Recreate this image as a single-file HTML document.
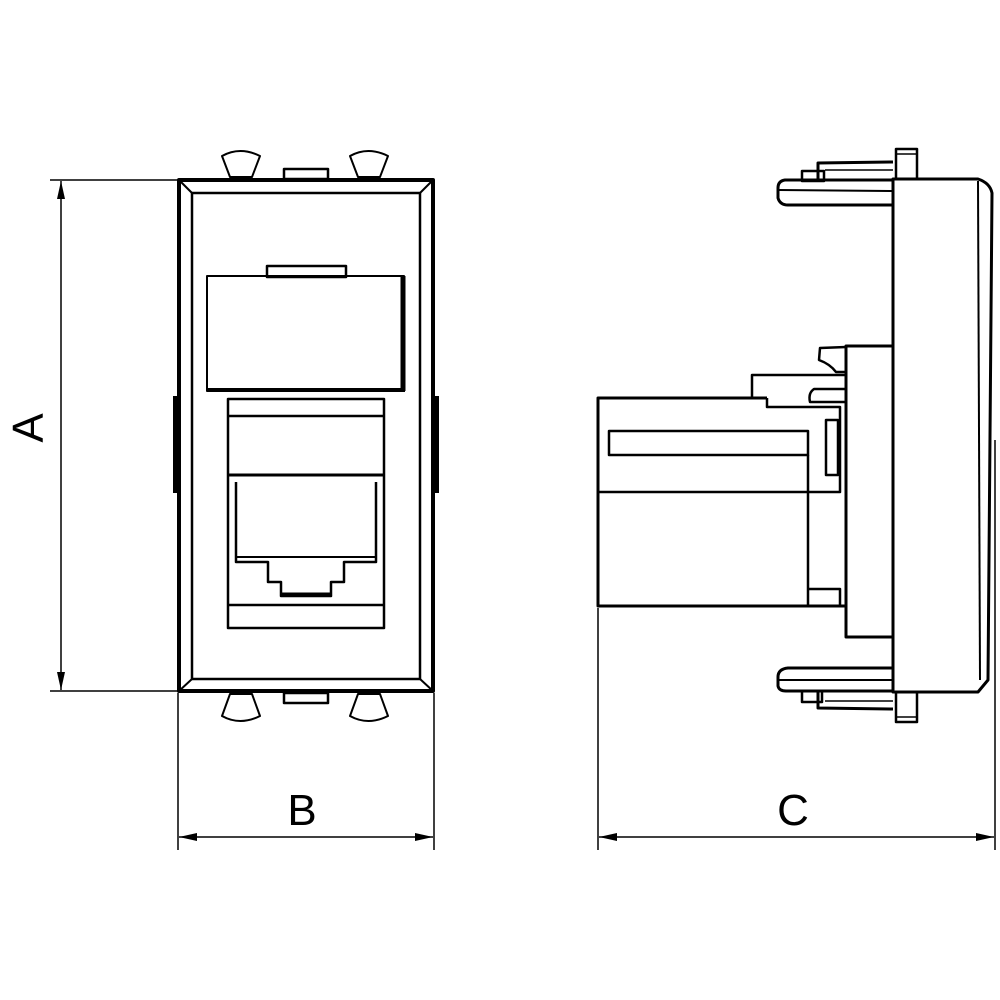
<!DOCTYPE html>
<html><head><meta charset="utf-8"><style>html,body{margin:0;padding:0;background:#fff}svg{display:block}</style></head>
<body>
<svg width="1000" height="1000" viewBox="0 0 1000 1000" xmlns="http://www.w3.org/2000/svg">
<defs>
<marker id="ar" viewBox="0 0 18 8" refX="18" refY="4" markerWidth="18" markerHeight="8" markerUnits="userSpaceOnUse" orient="auto-start-reverse"><path d="M0,0 L18,4 L0,8 Z" fill="#000"/></marker>
</defs>
<g fill="none" stroke="#000" stroke-linejoin="round">
<!-- FRONT VIEW -->
<!-- ears top -->
<path d="M222,156 Q240,146 260,156 L252,177 L230,177 Z" stroke-width="2"/>
<path d="M350,156 Q368,146 388,156 L380,177 L358,177 Z" stroke-width="2"/>
<rect x="284" y="169" width="44" height="10" stroke-width="2.5"/>
<!-- ears bottom -->
<path d="M222,716 Q240,726 260,716 L252,694 L230,694 Z" stroke-width="2"/>
<path d="M350,716 Q368,726 388,716 L380,694 L358,694 Z" stroke-width="2"/>
<rect x="284" y="693" width="44" height="10" stroke-width="2.5"/>
<!-- outer -->
<rect x="179" y="180" width="254" height="511" stroke-width="4"/>
<rect x="192" y="193" width="228" height="486" stroke-width="2.5"/>
<line x1="179" y1="180" x2="192" y2="193" stroke-width="2"/>
<line x1="433" y1="180" x2="420" y2="193" stroke-width="2"/>
<line x1="179" y1="691" x2="192" y2="679" stroke-width="2"/>
<line x1="433" y1="691" x2="420" y2="679" stroke-width="2"/>
<!-- side bars -->
<line x1="175" y1="396" x2="175" y2="493" stroke-width="4"/>
<line x1="437" y1="396" x2="437" y2="493" stroke-width="4"/>
<!-- window -->
<rect x="207" y="276" width="197" height="115" stroke-width="2"/>
<line x1="403" y1="276" x2="403" y2="391" stroke-width="5"/>
<line x1="207" y1="390" x2="405" y2="390" stroke-width="4"/>
<rect x="267" y="266" width="79" height="11" stroke-width="2.5"/>
<!-- jack -->
<rect x="228" y="399" width="156" height="229" stroke-width="2.5"/>
<line x1="228" y1="416" x2="384" y2="416" stroke-width="2.5"/>
<line x1="229" y1="475" x2="383" y2="475" stroke-width="3"/>
<path d="M236,482 L236,562 L268,562 L268,582 L281,582 L281,596 L331,596 L331,582 L344,582 L344,562 L376,562 L376,482" stroke-width="2.5"/>
<line x1="236" y1="557" x2="376" y2="557" stroke-width="2"/>
<line x1="228" y1="605" x2="384" y2="605" stroke-width="2.5"/>
<line x1="281" y1="594" x2="331" y2="594" stroke-width="3"/>

<!-- SIDE VIEW -->
<!-- plate -->
<path d="M893,179 L978,179 Q990,183 992,193 L988,680 L978,692 L893,692 Z" stroke-width="3"/>
<line x1="978" y1="181" x2="980" y2="680" stroke-width="2"/>
<rect x="896" y="149" width="21" height="30" stroke-width="2.5"/>
<line x1="897" y1="154" x2="916" y2="154" stroke-width="1.5"/>
<rect x="896" y="692" width="21" height="30" stroke-width="2.5"/>
<line x1="897" y1="717" x2="916" y2="717" stroke-width="1.5"/>
<!-- upper clip -->
<path d="M893,180 L785,180 Q778,181 778,188 L778,198 Q780,205 788,205 L893,205" stroke-width="3"/>
<line x1="779" y1="190" x2="893" y2="191" stroke-width="2"/>
<rect x="802" y="171" width="22" height="10" stroke-width="2.5"/>
<path d="M818,180 L818,163 L893,162" stroke-width="3"/>
<line x1="825" y1="170" x2="893" y2="170" stroke-width="1.5"/>
<!-- lower clip -->
<path d="M893,668 L788,668 Q778,669 778,677 L778,686 Q779,691 786,691 L893,691" stroke-width="3"/>
<line x1="779" y1="680" x2="893" y2="680" stroke-width="2"/>
<rect x="802" y="691" width="20" height="11" stroke-width="2.5"/>
<path d="M818,691 L818,708 L893,709" stroke-width="3"/>
<line x1="825" y1="701" x2="893" y2="701" stroke-width="1.5"/>
<!-- mid body -->
<path d="M893,346 L846,346 L846,637 L893,637" stroke-width="3"/>
<path d="M846,347 L820,348 L819,360 Q830,364 836,372 L846,372" stroke-width="2.5"/>
<path d="M846,375 L752,375 L752,398" stroke-width="2.5"/>
<path d="M846,389 L814,389 Q808,393 810,402 L846,402" stroke-width="2.5"/>
<!-- plug -->
<path d="M767,398 L598,398 L598,606 L846,606" stroke-width="3"/>
<path d="M767,398 L767,407 L840,407 L840,492 L598,492" stroke-width="2.5"/>
<rect x="609" y="431" width="199" height="24" stroke-width="2.5"/>
<rect x="826" y="420" width="12" height="55" stroke-width="2.5"/>
<line x1="808" y1="455" x2="808" y2="606" stroke-width="2.5"/>
<path d="M808,589 L840,589 L840,606" stroke-width="2.5"/>

<!-- DIMENSIONS -->
<g stroke-width="1.5">
<line x1="50" y1="180" x2="178" y2="180"/>
<line x1="50" y1="691" x2="178" y2="691"/>
<line x1="61" y1="181" x2="61" y2="690" marker-start="url(#ar)" marker-end="url(#ar)"/>
<line x1="178" y1="693" x2="178" y2="850"/>
<line x1="434" y1="693" x2="434" y2="850"/>
<line x1="179" y1="837" x2="433" y2="837" marker-start="url(#ar)" marker-end="url(#ar)"/>
<line x1="598" y1="608" x2="598" y2="850"/>
<line x1="995" y1="440" x2="995" y2="850"/>
<line x1="599" y1="837" x2="994" y2="837" marker-start="url(#ar)" marker-end="url(#ar)"/>
</g>
</g>
<g font-family="Liberation Sans, sans-serif" font-size="44" fill="#000" text-anchor="middle">
<text x="302" y="825">B</text>
<text x="793" y="825">C</text>
<text x="0" y="0" transform="translate(43,428) rotate(-90)">A</text>
</g>
</svg>
</body></html>
